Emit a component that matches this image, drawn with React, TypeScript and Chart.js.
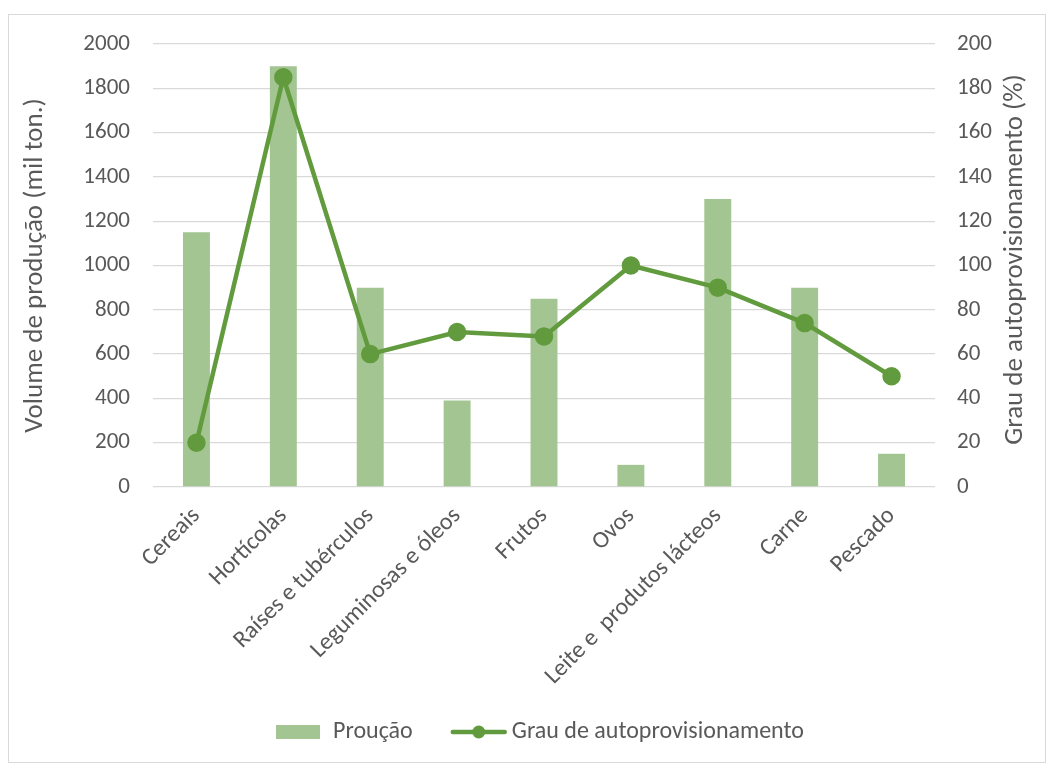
import React, { useEffect, useRef } from "react";
import { Chart, registerables } from "chart.js";

Chart.register(...registerables);

const categories = [
  "Cereais",
  "Hortícolas",
  "Raíses e tubérculos",
  "Leguminosas e óleos",
  "Frutos",
  "Ovos",
  "Leite e  produtos lácteos",
  "Carne",
  "Pescado",
];
const producao = [1150, 1900, 900, 390, 850, 100, 1300, 900, 150];
const grau = [20, 185, 60, 70, 68, 100, 90, 74, 50];
const leftTicks = [0, 200, 400, 600, 800, 1000, 1200, 1400, 1600, 1800, 2000];
const rightTicks = [0, 20, 40, 60, 80, 100, 120, 140, 160, 180, 200];

const barLabel = "Proução";
const lineLabel = "Grau de autoprovisionamento";
const leftTitle = "Volume de produção (mil ton.)";
const rightTitle = "Grau de autoprovisionamento (%)";

const FONT = "Carlito, Calibri, Lato, sans-serif";
const TEXT = "#595959";
const GRID = "#D9D9D9";
const BAR = "#A2C591";
const LINE = "#629B3E";

const W = 1036;
const H = 747;

const extrasPlugin = {
  id: "extras",
  afterDraw(chart: any) {
    const ctx = chart.ctx;
    ctx.save();
    // right axis title (reads bottom to top)
    const area = chart.chartArea;
    ctx.font = `27px ${FONT}`;
    ctx.fillStyle = TEXT;
    ctx.textAlign = "center";
    ctx.textBaseline = "middle";
    ctx.translate(1006, (area.top + area.bottom) / 2 - 6);
    ctx.rotate(-Math.PI / 2);
    ctx.fillText(rightTitle, 0, 0);
    ctx.restore();

    // legend
    ctx.save();
    ctx.font = `24px ${FONT}`;
    ctx.textBaseline = "middle";
    ctx.textAlign = "left";
    const y = 717;
    const boxW = 44;
    const boxH = 14;
    const lineW = 52;
    const t1 = ctx.measureText(barLabel).width;
    const t2 = ctx.measureText(lineLabel).width;
    const total = boxW + 13 + t1 + 40 + lineW + 7 + t2;
    let x = (chart.width - total) / 2 + 13;
    ctx.fillStyle = BAR;
    ctx.fillRect(x, y - boxH / 2, boxW, boxH);
    x += boxW + 13;
    ctx.fillStyle = TEXT;
    ctx.fillText(barLabel, x, y);
    x += t1 + 40;
    ctx.strokeStyle = LINE;
    ctx.lineWidth = 4.5;
    ctx.lineCap = "round";
    ctx.beginPath();
    ctx.moveTo(x, y);
    ctx.lineTo(x + lineW, y);
    ctx.stroke();
    ctx.fillStyle = LINE;
    ctx.beginPath();
    ctx.arc(x + lineW / 2, y, 6.5, 0, Math.PI * 2);
    ctx.fill();
    x += lineW + 7;
    ctx.fillStyle = TEXT;
    ctx.fillText(lineLabel, x, y);
    ctx.restore();
  },
};

export default function App() {
  const ref = useRef<HTMLCanvasElement>(null);
  useEffect(() => {
    if (!ref.current) return;
    const chart = new Chart(ref.current, {
      type: "bar",
      data: {
        labels: categories,
        datasets: [
          {
            type: "line",
            label: lineLabel,
            data: grau,
            yAxisID: "y1",
            borderColor: LINE,
            backgroundColor: LINE,
            borderWidth: 4.5,
            pointRadius: 7,
            pointBackgroundColor: LINE,
            pointBorderColor: LINE,
            tension: 0,
            order: 0,
          } as any,
          {
            type: "bar",
            label: barLabel,
            data: producao,
            yAxisID: "y",
            backgroundColor: BAR,
            categoryPercentage: 1,
            barPercentage: 0.31,
            order: 1,
          },
        ],
      },
      options: {
        responsive: false,
        animation: false,
        layout: { padding: { top: 29, left: 0, right: 0, bottom: 0 } },
        plugins: {
          legend: { display: false },
          tooltip: { enabled: false },
        },
        scales: {
          x: {
            grid: { display: false, drawTicks: false },
            border: { display: false },
            ticks: {
              color: TEXT,
              font: { family: FONT, size: 24 },
              maxRotation: 45,
              minRotation: 45,
              padding: 15,
              autoSkip: false,
            },
            afterFit(scale: any) {
              scale.height = 275;
              scale.paddingTop = 0;
              scale.paddingBottom = 0;
              scale.paddingLeft = 0;
              scale.paddingRight = 0;
            },
          },
          y: {
            position: "left",
            min: 0,
            max: 2000,
            afterBuildTicks(scale: any) {
              scale.ticks = leftTicks.map((v) => ({ value: v }));
            },
            grid: { color: GRID, lineWidth: 1.3, drawTicks: false },
            border: { display: false },
            ticks: {
              color: TEXT,
              font: { family: FONT, size: 23 },
              padding: 23,
              callback: (v: any) => String(v),
            },
            title: {
              display: true,
              text: leftTitle,
              color: TEXT,
              font: { family: FONT, size: 27 },
              padding: { top: 10, bottom: 0 },
            },
            afterFit(scale: any) {
              scale.width = 144;
              scale.paddingTop = 0;
              scale.paddingBottom = 0;
            },
          },
          y1: {
            position: "right",
            min: 0,
            max: 200,
            afterBuildTicks(scale: any) {
              scale.ticks = rightTicks.map((v) => ({ value: v }));
            },
            grid: { display: false, drawTicks: false },
            border: { display: false },
            ticks: {
              color: TEXT,
              font: { family: FONT, size: 23 },
              padding: 22,
              callback: (v: any) => String(v),
            },
            afterFit(scale: any) {
              scale.width = 110;
              scale.paddingTop = 0;
              scale.paddingBottom = 0;
            },
          },
        },
      },
      plugins: [extrasPlugin],
    });
    return () => chart.destroy();
  }, []);
  return (
    <div
      style={{
        marginTop: 6,
        width: W,
        height: H,
        border: `1px solid ${GRID}`,
        background: "#fff",
      }}
    >
      <canvas ref={ref} width={W} height={H} style={{ display: "block" }} />
    </div>
  );
}
